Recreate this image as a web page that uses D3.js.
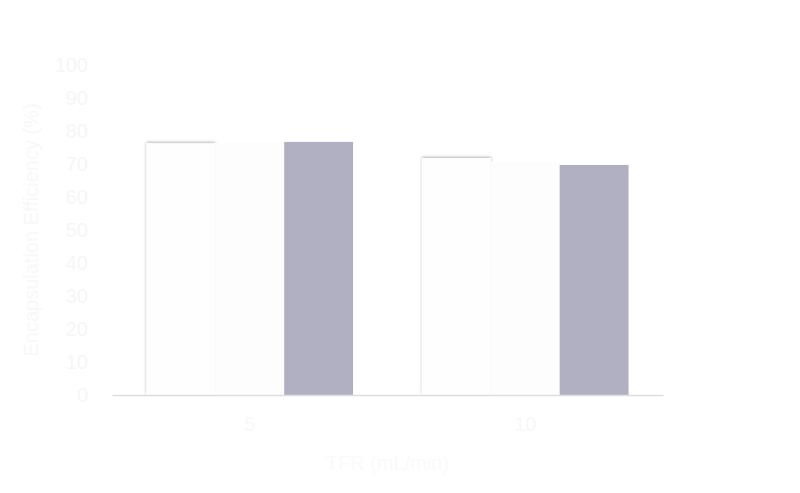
<!DOCTYPE html>
<html>
<head>
<meta charset="utf-8">
<script src="https://cdn.jsdelivr.net/npm/d3@7"></script>
<style>
  html, body { margin: 0; padding: 0; background: #ffffff; }
  svg { display: block; font-family: "Liberation Sans", Arial, sans-serif; }
</style>
</head>
<body>
<svg id="chart" width="800" height="493"></svg>
<script>
// ---- data ----
const categories = ["5", "10"];
const seriesNames = ["Series A", "Series B", "Series C"];
const seriesA = [76.3, 71.8];
const seriesB = [76.5, 70.7];
const seriesC = [76.7, 69.7];
const yTicks = [0, 10, 20, 30, 40, 50, 60, 70, 80, 90, 100];
const xTitle = "TFR (mL/min)";
const yTitle = "Encapsulation Efficiency (%)";

const seriesValues = [seriesA, seriesB, seriesC];
const seriesColors = ["#fefefe", "#fdfdfd", "#b0b0c2"];

const svg = d3.select("#chart");
const margin = {left: 112, right: 137, top: 65, bottom: 98};
const W = 800, H = 493;
const plotW = W - margin.left - margin.right;
const plotH = H - margin.top - margin.bottom;

const defs = svg.append("defs");
const f = defs.append("filter").attr("id", "shadow")
  .attr("x", "-10%").attr("y", "-10%").attr("width", "120%").attr("height", "120%");
f.append("feDropShadow").attr("dx", 0).attr("dy", -1)
  .attr("stdDeviation", 1.6).attr("flood-color", "#000").attr("flood-opacity", 0.3);

const g = svg.append("g").attr("transform", `translate(${margin.left},${margin.top})`);

const x0 = d3.scaleBand().domain(categories).range([0, plotW])
  .paddingInner(0.25).paddingOuter(0.125);
const x1 = d3.scaleBand().domain(d3.range(seriesNames.length)).range([0, x0.bandwidth()]).padding(0);
const y = d3.scaleLinear().domain([0, 100]).range([plotH, 0]);

// bars
seriesValues.forEach((vals, si) => {
  g.append("g")
    .attr("filter", si === 0 ? "url(#shadow)" : null)
    .selectAll("rect").data(categories).enter().append("rect")
    .attr("x", (c) => x0(c) + x1(si))
    .attr("y", (c, i) => y(vals[i]))
    .attr("width", x1.bandwidth())
    .attr("height", (c, i) => plotH - y(vals[i]))
    .attr("fill", seriesColors[si]);
});

// y axis
const yAxis = d3.axisLeft(y).tickValues(yTicks).tickSize(0).tickPadding(24);
const yg = g.append("g").call(yAxis);
yg.select(".domain").remove();
yg.selectAll("text").attr("fill", "#f6f6f6").attr("font-size", 20)
  .attr("font-family", "Liberation Sans, Arial, sans-serif");

// x axis
const xAxis = d3.axisBottom(x0).tickSize(0).tickPadding(22);
const xg = g.append("g").attr("transform", `translate(0,${plotH})`).call(xAxis);
xg.select(".domain").attr("stroke", "#dedede").attr("stroke-width", 1.5);
xg.selectAll("text").attr("fill", "#f8f8f8").attr("font-size", 20)
  .attr("font-family", "Liberation Sans, Arial, sans-serif");

// titles
svg.append("text")
  .attr("x", margin.left + plotW / 2).attr("y", 470)
  .attr("text-anchor", "middle").attr("font-size", 20).attr("fill", "#fafafa")
  .text(xTitle);

svg.append("text")
  .attr("transform", `translate(38,${margin.top + plotH / 2}) rotate(-90)`)
  .attr("text-anchor", "middle").attr("font-size", 20).attr("fill", "#f8f8f8")
  .text(yTitle);
</script>
</body>
</html>
